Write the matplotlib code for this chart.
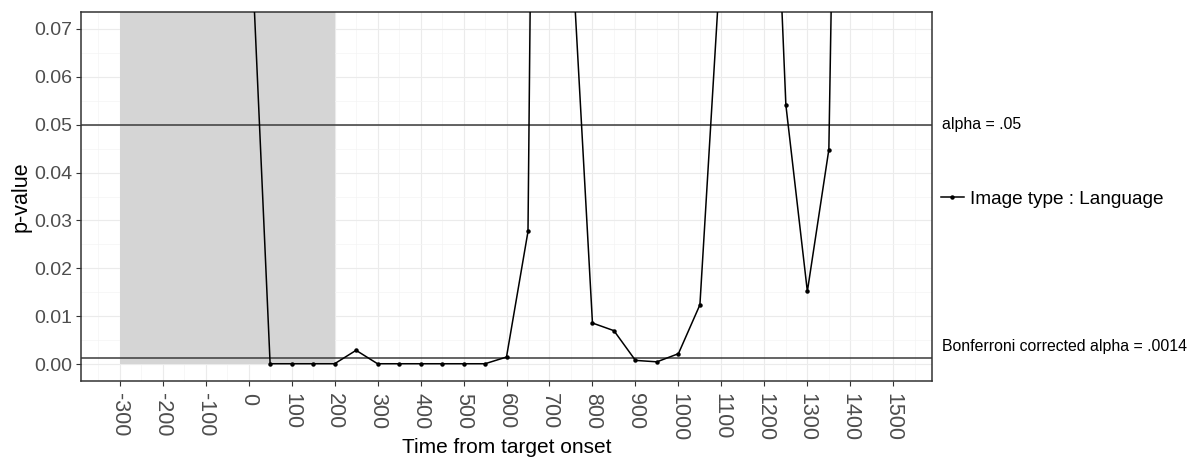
import matplotlib
matplotlib.use("Agg")
import matplotlib.pyplot as plt
import matplotlib.transforms as mtransforms
from matplotlib.lines import Line2D
import numpy as np

plt.rcParams["font.family"] = ["Liberation Sans", "DejaVu Sans"]

# time from target onset (ms) and p-values
TIME = [0, 50, 100, 150, 200, 250, 300, 350, 400, 450, 500, 550, 600, 650,
        700, 750, 800, 850, 900, 950, 1000, 1050, 1100, 1150, 1200, 1250,
        1300, 1350, 1400, 1450, 1500]
PVAL = [0.101, 0.0001, 0.0001, 0.0001, 0.0001, 0.0029, 0.0001, 0.0001,
        0.0001, 0.0001, 0.0001, 0.0001, 0.0015, 0.0277, 0.49, 0.090, 0.0086,
        0.0070, 0.0008, 0.0005, 0.0022, 0.0124, 0.087, 0.25, 0.162, 0.0541,
        0.0152, 0.0448, 0.316, 0.45, 0.40]
SHADE = (-300, 200)
ALPHA = 0.05
BONF = 0.0014
XTICKS = list(range(-300, 1501, 100))
YTICKS = [0.00, 0.01, 0.02, 0.03, 0.04, 0.05, 0.06, 0.07]
SERIES = "Image type : Language"

W, H = 1192, 459
fig = plt.figure(figsize=(W / 100, H / 100), dpi=100)
ax = fig.add_axes([81 / W, 1 - 381 / H, (932 - 81) / W, (381 - 12) / H])

# grid
ax.set_xticks(XTICKS)
ax.set_xticks(np.arange(-350, 1600, 100), minor=True)
ax.set_yticks(YTICKS)
ax.set_yticks(np.arange(0.005, 0.07, 0.01), minor=True)
ax.grid(which="major", color="#EBEBEB", lw=0.8, zorder=0)
ax.grid(which="minor", color="#F4F4F4", lw=0.5, zorder=0)
ax.set_axisbelow(True)

# shaded window
ax.fill_between(SHADE, 0, 1, color="#D5D5D5", lw=0, zorder=1)

# reference lines
ax.axhline(ALPHA, color="#3A3A3A", lw=1.1, zorder=2)
ax.axhline(BONF, color="#3A3A3A", lw=1.1, zorder=2)

ax.plot(TIME, PVAL, color="black", lw=1.1, marker="o", ms=2.2, zorder=3)

ax.set_xlim(-390, 1590)
ax.set_ylim(-0.0035, 0.0735)

ax.set_xticklabels([str(t) for t in XTICKS], rotation=-90)
ax.set_yticklabels([f"{v:.2f}" for v in YTICKS])
ax.tick_params(which="major", length=3.5, width=0.8, color="#333333",
               labelcolor="#4D4D4D", pad=3)
ax.tick_params(axis="x", labelsize=15.5, pad=5)
ax.tick_params(axis="y", labelsize=14)
ax.tick_params(which="minor", length=0)
for s in ax.spines.values():
    s.set_color("#333333")
    s.set_linewidth(1.1)

ax.set_xlabel("Time from target onset", fontsize=15, va="center")
ax.xaxis.set_label_coords(0.5, -0.179)
ax.set_ylabel("p-value", fontsize=15.5, va="center")
ax.yaxis.set_label_coords(-0.0705, 0.5)

# labels for the reference lines, outside the panel
tr = mtransforms.blended_transform_factory(ax.transAxes, ax.transData)
ax.text(1.0115, ALPHA, "alpha = .05", transform=tr, fontsize=11.4,
        va="center", ha="left", clip_on=False)
ax.text(1.0115, 0.0038, "Bonferroni corrected alpha = .0014", transform=tr,
        fontsize=11.4, va="center", ha="left", clip_on=False)

handle = Line2D([], [], color="black", lw=1.1, marker="o", ms=2.2)
fig.legend([handle], [SERIES], loc="center left",
           bbox_to_anchor=(941 / W, 1 - 199 / H), frameon=False,
           fontsize=13.7, handlelength=1.2, handletextpad=0.3,
           borderpad=0, borderaxespad=0)

fig.savefig("out.png", dpi=100)
